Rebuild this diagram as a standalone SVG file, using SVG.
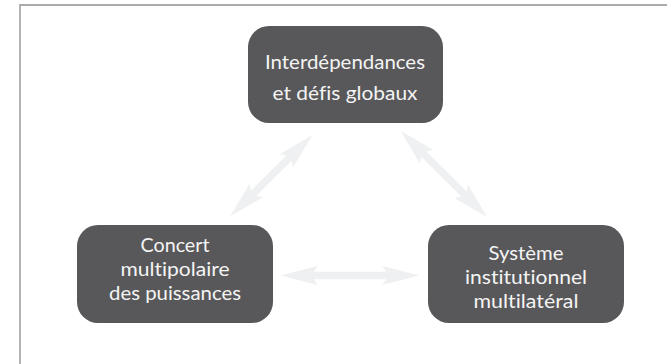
<svg xmlns="http://www.w3.org/2000/svg" width="667" height="364" viewBox="0 0 667 364">
<style>
.frame{fill:none;stroke:#ababab;stroke-width:1.8}
.box{fill:#58585a}
.lbl{font-family:Lato,"Open Sans","Liberation Sans",sans-serif;font-size:19.5px;fill:#f4f4f4;text-anchor:middle;font-variant-ligatures:none;font-feature-settings:"liga" 0,"dlig" 0,"clig" 0}
.arr{fill:#eff0f1}
</style>
<rect width="667" height="364" fill="#ffffff"/>
<path class="frame" d="M20 364 V5 H667"/>
<g id="connectors">
<polygon class="arr" transform="translate(280.7,275.5)" points="0,0 37,-9.5 33,-3.7 105.6,-3.7 101.6,-9.5 138.6,0 101.6,9.5 105.6,3.7 33,3.7 37,9.5"/>
<polygon class="arr" transform="translate(230,216.5) rotate(-44.65)" points="0,0 37,-9.5 33,-3.7 83,-3.7 79,-9.5 116,0 79,9.5 83,3.7 33,3.7 37,9.5"/>
<polygon class="arr" transform="translate(400.5,130.7) rotate(44.93)" points="0,0 37,-9.5 33,-3.7 89.6,-3.7 85.6,-9.5 122.6,0 85.6,9.5 89.6,3.7 33,3.7 37,9.5"/>
</g>
<g id="node-top">
<rect class="box" x="248" y="26" width="195" height="97" rx="21"/>
<text class="lbl" x="345" y="68.5" textLength="160" lengthAdjust="spacingAndGlyphs">Interdépendances</text>
<text class="lbl" x="345" y="99.5" textLength="145" lengthAdjust="spacingAndGlyphs">et défis globaux</text>
</g>
<g id="node-left">
<rect class="box" x="77" y="225" width="196" height="98" rx="21"/>
<text class="lbl" x="175" y="252" textLength="69" lengthAdjust="spacingAndGlyphs">Concert</text>
<text class="lbl" x="175" y="276" textLength="109" lengthAdjust="spacingAndGlyphs">multipolaire</text>
<text class="lbl" x="175" y="300" textLength="132" lengthAdjust="spacingAndGlyphs">des puissances</text>
</g>
<g id="node-right">
<rect class="box" x="428" y="225" width="196" height="98" rx="21"/>
<text class="lbl" x="526" y="260" textLength="75" lengthAdjust="spacingAndGlyphs">Système</text>
<text class="lbl" x="526" y="284" textLength="122" lengthAdjust="spacingAndGlyphs">institutionnel</text>
<text class="lbl" x="526" y="307.5" textLength="105" lengthAdjust="spacingAndGlyphs">multilatéral</text>
</g>
</svg>
